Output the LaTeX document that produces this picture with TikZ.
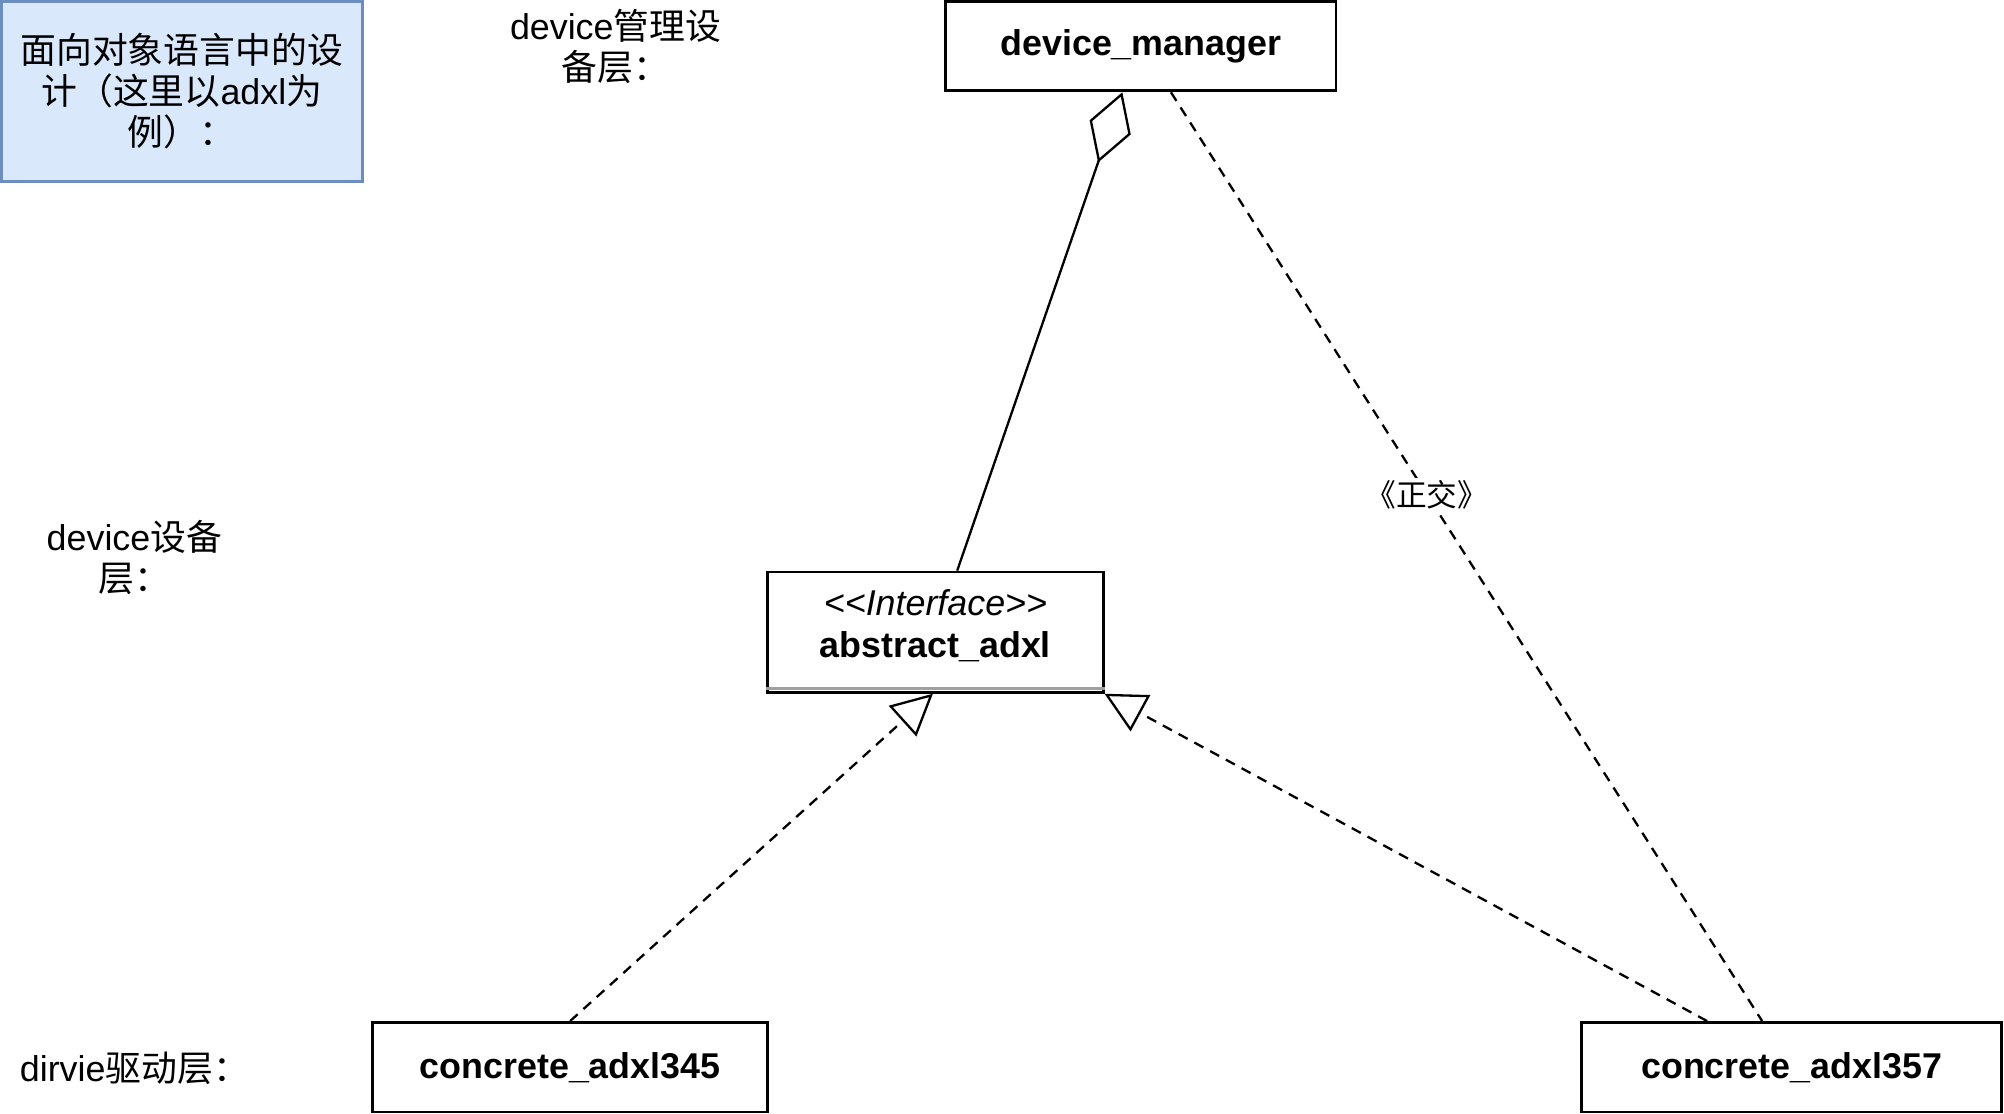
\documentclass[tikz,border=0pt]{standalone}
\usepackage{fontspec}
\setmainfont{Liberation Sans}
\newfontfamily\cjk{Noto Sans CJK SC}
\usetikzlibrary{arrows.meta}
\definecolor{notefill}{HTML}{DAE8FC}
\definecolor{notedraw}{HTML}{6C8EBF}
\tikzset{
    cls/.style={
           draw, line width=2.2pt,
           inner sep=0pt,
           minimum height=70pt,
           font=\fontsize{28}{33}\selectfont\bfseries,
           },
    txt/.style={
           align=center, inner sep=0pt,
           font=\fontsize{28}{32}\selectfont,
           },
    agg/.style={
           line width=1.8pt,
           {Diamond[open, length=58pt, width=34pt]}-,
           },
    real/.style={
           line width=1.8pt, dash pattern=on 8pt off 6pt,
           -{Triangle[open, length=32pt, width=32pt]},
           },
    dep/.style={
           line width=1.8pt, dash pattern=on 8pt off 6pt,
           },
}
\begin{document}
\begin{tikzpicture}[x=1pt,y=-1pt]
\useasboundingbox (0,0) rectangle (1566,870);
\node[txt, draw=notedraw, fill=notefill, line width=2.2pt, minimum width=282pt, minimum height=141pt] (intro) at (142,71.5) {{\cjk 面向对象语言中的设}\\{\cjk 计（这里以}adxl{\cjk 为}\\{\cjk 例）：}};
\node[txt] (lmgr) at (481,36) {device{\cjk 管理设}\\{\cjk 备层：}};
\node[txt] (ldev) at (105,436) {device{\cjk 设备}\\{\cjk 层：}};
\node[txt] (ldrv) at (105,835) {dirvie{\cjk 驱动层：}};
\node[cls, minimum width=305pt] (mgr) at (891.5,36) {device\_manager};
\node[cls, minimum width=262pt, minimum height=94pt] (abs) at (731,494) {};
\node[txt, font=\fontsize{28}{33}\selectfont] (abst) at (731,489) {\textit{<\kern0pt<Interface>\kern0pt>}\\\textbf{abstract\_adxl}};
\draw[gray!75, line width=2pt] ([yshift=4pt]abs.south west) -- ([yshift=4pt]abs.south east);
\node[cls, minimum width=309pt] (c345) at (445.5,834) {concrete\_adxl345};
\node[cls, minimum width=328pt] (c357) at (1400,834) {concrete\_adxl357};
\draw[agg] ([xshift=-14.5pt]mgr.south) -- ([xshift=17pt]abs.north);
\draw[dep] ([xshift=23.5pt]mgr.south) -- node[pos=0.433, fill=white, inner sep=2pt, font=\fontsize{24}{28}\selectfont\cjk] (orth) {《正交》} ([xshift=-23pt]c357.north);
\draw[real] (c345.north) -- ([xshift=-2pt]abs.south);
\draw[real] ([xshift=-66pt]c357.north) -- (abs.south east);
\end{tikzpicture}
\end{document}
